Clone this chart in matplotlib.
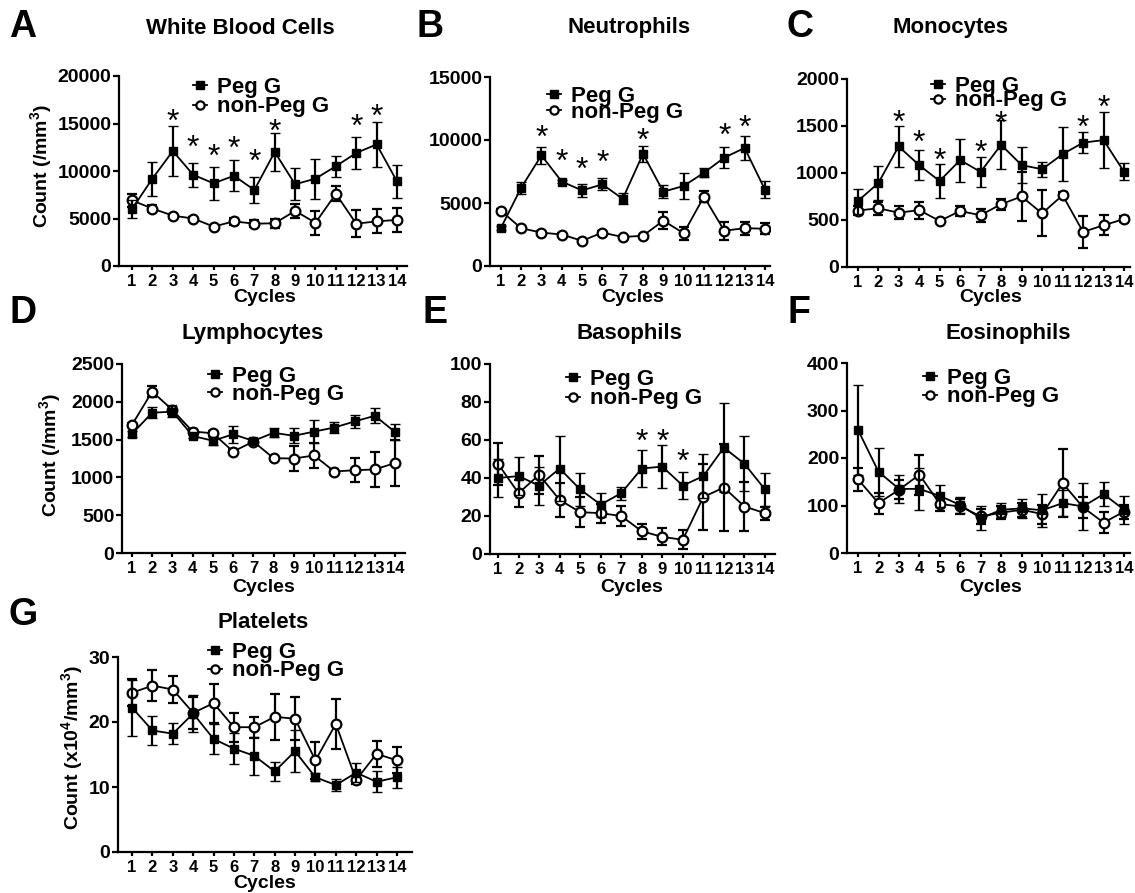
import numpy as np
import matplotlib
matplotlib.use('Agg')
import matplotlib.pyplot as plt

plt.rcParams['font.family'] = ['Liberation Sans', 'DejaVu Sans']
plt.rcParams['mathtext.fontset'] = 'custom'
plt.rcParams['mathtext.rm'] = 'Liberation Sans:bold'
plt.rcParams['mathtext.it'] = 'Liberation Sans:bold'
plt.rcParams['mathtext.bf'] = 'Liberation Sans:bold'
plt.rcParams['mathtext.default'] = 'rm'

cycles = np.arange(1, 15)
legend_labels = ['Peg G', 'non-Peg G']

# White blood cells
wbc_peg = [6000, 9200, 12100, 9600, 8700, 9500, 8000, 12000, 8600, 9200, 10500, 11900, 12800, 8900]
wbc_peg_err = [900, 1800, 2600, 1250, 1700, 1650, 1350, 2000, 1700, 2100, 1100, 1650, 2400, 1700]
wbc_non = [6900, 6050, 5300, 5000, 4150, 4700, 4450, 4500, 5800, 4550, 7600, 4450, 4700, 4850]
wbc_non_err = [650, 400, 200, 200, 200, 350, 350, 450, 700, 1250, 800, 1400, 1250, 1250]
wbc_star_x = [3, 4, 5, 6, 7, 8, 12, 13]
wbc_star_y = [16100, 13400, 12400, 13300, 11900, 15100, 15600, 16600]

# Neutrophils
neu_peg = [3000, 6200, 8780, 6700, 6000, 6480, 5330, 8900, 5900, 6350, 7400, 8600, 9370, 6060]
neu_peg_err = [150, 500, 700, 150, 500, 470, 430, 620, 520, 1000, 350, 820, 950, 700]
neu_non = [4400, 3000, 2650, 2500, 2000, 2650, 2300, 2400, 3600, 2600, 5500, 2800, 3000, 2960]
neu_non_err = [100, 150, 150, 100, 100, 150, 100, 100, 700, 520, 430, 700, 520, 420]
neu_star_x = [3, 4, 5, 6, 8, 12, 13]
neu_star_y = [10900, 8980, 8340, 8870, 10640, 11040, 11700]

# Monocytes
mono_peg = [700, 890, 1283, 1083, 915, 1137, 1012, 1300, 1084, 1040, 1200, 1323, 1350, 1012]
mono_peg_err = [135, 180, 215, 160, 185, 230, 160, 260, 195, 80, 290, 115, 300, 90]
mono_non = [600, 625, 578, 605, 490, 595, 551, 668, 750, 570, 764, 373, 444, 510]
mono_non_err = [50, 70, 70, 90, 20, 50, 70, 60, 260, 245, 35, 170, 105, 30]
mono_star_x = [3, 4, 5, 7, 8, 12, 13]
mono_star_y = [1634, 1421, 1225, 1307, 1616, 1581, 1794]

# Lymphocytes
lym_peg = [1576, 1855, 1870, 1549, 1485, 1570, 1483, 1590, 1550, 1606, 1660, 1740, 1815, 1600]
lym_peg_err = [35, 70, 70, 30, 55, 110, 30, 60, 100, 155, 75, 90, 100, 100]
lym_non = [1694, 2135, 1893, 1607, 1584, 1342, 1474, 1254, 1250, 1290, 1078, 1095, 1105, 1190]
lym_non_err = [30, 70, 50, 30, 30, 30, 30, 30, 170, 165, 30, 160, 235, 300]

# Basophils
baso_peg = [40, 41, 36, 45, 34, 26, 32, 45, 46, 36, 41, 56, 47.5, 34]
baso_peg_err = [10, 10, 10, 17, 8.5, 6.3, 3.5, 9.8, 11.5, 7.3, 11.5, 23.5, 14.5, 8.8]
baso_non = [47.5, 32, 41.7, 28.5, 22, 21.5, 20, 12, 9, 7.5, 30, 35, 25, 21.5]
baso_non_err = [11, 7, 10, 9, 8, 5, 5.5, 4, 4.5, 5, 17.5, 23, 13, 3.5]
baso_star_x = [8, 9, 10]
baso_star_y = [63.6, 63.6, 53.1]

# Eosinophils
eos_peg = [259, 171, 135, 135, 120, 101, 73, 91, 94, 90, 105, 98, 124, 91]
eos_peg_err = [95, 51, 30, 45, 23, 17, 25, 15, 20, 35, 27, 50, 25, 30]
eos_non = [155, 105, 133, 165, 103, 98, 77, 85, 91, 82, 147, 96, 64, 87]
eos_non_err = [25, 22, 20, 42, 15, 15, 15, 13, 15, 20, 71, 22, 22, 15]

# Platelets (x10^4/mm^3)
platelet_peg = [22.2, 18.7, 18.2, 21.3, 17.4, 15.9, 14.8, 12.4, 15.5, 11.5, 10.3, 12.2, 10.8, 11.5]
platelet_peg_err = [4.3, 2.2, 1.6, 2.9, 2.3, 2.4, 2.9, 1.45, 3.2, 0.6, 0.9, 1.5, 1.6, 1.6]
platelet_non = [24.5, 25.6, 25.0, 21.4, 22.9, 19.2, 19.2, 20.8, 20.5, 14.1, 19.7, 11.1, 15.1, 14.1]
platelet_non_err = [2.05, 2.4, 2.1, 2.5, 3.0, 2.2, 1.6, 3.5, 3.3, 2.9, 3.8, 0.6, 2.05, 2.0]

W, H = 1135, 893
fig = plt.figure(figsize=(W / 100, H / 100), dpi=100)

ylab_std = 'Count (/mm$^{3}$)'
ylab_plt = 'Count (x10$^{4}$/mm$^{3}$)'

panels = [
    dict(letter='A', title='White Blood Cells', peg=wbc_peg, pe=wbc_peg_err, non=wbc_non, ne=wbc_non_err,
         sx=wbc_star_x, sy=wbc_star_y, box=(119, 76, 407, 266), xlim=(0.36, 14.49), ymax=20000, ystep=5000,
         leg=(193, 86), lsp=-0.07, letpos=(23, 27), titpos=(240, 28), ylab=ylab_std, ylabpos=(41, 166), cyc_y=297),
    dict(letter='B', title='Neutrophils', peg=neu_peg, pe=neu_peg_err, non=neu_non, ne=neu_non_err,
         sx=neu_star_x, sy=neu_star_y, box=(490, 77, 770, 266), xlim=(0.47, 14.25), ymax=15000, ystep=5000,
         leg=(547, 95), lsp=-0.22, letpos=(430, 27), titpos=(629, 28), ylab=None, ylabpos=None, cyc_y=297),
    dict(letter='C', title='Monocytes', peg=mono_peg, pe=mono_peg_err, non=mono_non, ne=mono_non_err,
         sx=mono_star_x, sy=mono_star_y, box=(847, 79, 1130, 267), xlim=(0.48, 14.29), ymax=2000, ystep=500,
         leg=(931, 85), lsp=-0.3, letpos=(800, 27), titpos=(950, 28), ylab=None, ylabpos=None, cyc_y=297),
    dict(letter='D', title='Lymphocytes', peg=lym_peg, pe=lym_peg_err, non=lym_non, ne=lym_non_err,
         sx=[], sy=[], box=(122, 364, 405, 553), xlim=(0.51, 14.49), ymax=2500, ystep=500,
         leg=(208, 375), lsp=-0.15, letpos=(23, 313), titpos=(253, 333), ylab=ylab_std, ylabpos=(50, 455), cyc_y=588),
    dict(letter='E', title='Basophils', peg=baso_peg, pe=baso_peg_err, non=baso_non, ne=baso_non_err,
         sx=baso_star_x, sy=baso_star_y, box=(490, 364, 775, 554), xlim=(0.61, 14.49), ymax=100, ystep=20,
         leg=(566, 378), lsp=-0.07, letpos=(435, 313), titpos=(629, 333), ylab=None, ylabpos=None, cyc_y=588),
    dict(letter='F', title='Eosinophils', peg=eos_peg, pe=eos_peg_err, non=eos_non, ne=eos_non_err,
         sx=[], sy=[], box=(847, 363, 1130, 553), xlim=(0.46, 14.29), ymax=400, ystep=100,
         leg=(923, 377), lsp=-0.12, letpos=(799, 313), titpos=(1008, 333), ylab=None, ylabpos=None, cyc_y=588),
    dict(letter='G', title='Platelets', peg=platelet_peg, pe=platelet_peg_err, non=platelet_non, ne=platelet_non_err,
         sx=[], sy=[], box=(118, 657, 412, 852), xlim=(0.31, 14.74), ymax=30, ystep=10,
         leg=(208, 651), lsp=-0.12, letpos=(23, 615), titpos=(263, 623), ylab=ylab_plt, ylabpos=(72, 748), cyc_y=883),
]


def fx(x):
    return x / W


def fy(y):
    return 1 - y / H


for p in panels:
    l, t, r, b = p['box']
    ax = fig.add_axes([fx(l), fy(b), (r - l) / W, (b - t) / H])
    non = ax.errorbar(cycles, p['non'], yerr=p['ne'], fmt='-o', color='black', mfc='white', mec='black',
                      ms=7, mew=1.6, lw=1.3, elinewidth=1.6, capsize=3.8, capthick=1.6, zorder=3)
    peg = ax.errorbar(cycles, p['peg'], yerr=p['pe'], fmt='-s', color='black', mfc='black', mec='black',
                      ms=6, mew=1.0, lw=1.3, elinewidth=1.6, capsize=3.8, capthick=1.6, zorder=4)
    for sx, sy in zip(p['sx'], p['sy']):
        ax.annotate('*', (sx, sy), xytext=(0, -13), textcoords='offset points', ha='center', va='baseline',
                    fontsize=23, fontfamily='Liberation Sans', color='black')
    ax.set_xlim(*p['xlim'])
    ax.set_ylim(0, p['ymax'])
    ax.set_xticks(cycles)
    ax.set_xticklabels([str(c) for c in cycles])
    ax.set_yticks(np.arange(0, p['ymax'] + p['ystep'] * 0.5, p['ystep']))
    for s in ['top', 'right']:
        ax.spines[s].set_visible(False)
    for s in ['left', 'bottom']:
        ax.spines[s].set_linewidth(1.6)
    ax.tick_params(axis='y', length=4, width=1.6, pad=1.5, labelsize=14)
    ax.tick_params(axis='x', length=3, width=1.6, pad=3, labelsize=12)
    for lab in ax.get_xticklabels() + ax.get_yticklabels():
        lab.set_fontweight('bold')
    ax.patch.set_alpha(0)
    ax.legend([peg[0], non[0]], legend_labels, loc='upper left',
              bbox_to_anchor=(fx(p['leg'][0]), fy(p['leg'][1] - 9)), bbox_transform=fig.transFigure,
              frameon=False, borderpad=0, borderaxespad=0, handlelength=0.65, handletextpad=0.45,
              labelspacing=p['lsp'], markerscale=0.85, prop={'weight': 'bold', 'size': 16})
    fig.text(fx(p['letpos'][0]), fy(p['letpos'][1]), p['letter'], fontsize=27, fontweight='bold',
             ha='center', va='center')
    fig.text(fx(p['titpos'][0]), fy(p['titpos'][1]), p['title'], fontsize=16, fontweight='bold',
             ha='center', va='center')
    if p['ylab']:
        fig.text(fx(p['ylabpos'][0]), fy(p['ylabpos'][1]), p['ylab'], fontsize=14, fontweight='bold',
                 rotation=90, ha='center', va='center')
    x0, x1 = p['xlim']
    cx = l + (7.5 - x0) / (x1 - x0) * (r - l)
    fig.text(fx(cx), fy(p['cyc_y']), 'Cycles', fontsize=14, fontweight='bold', ha='center', va='center')

fig.savefig('out.png', dpi=100)
